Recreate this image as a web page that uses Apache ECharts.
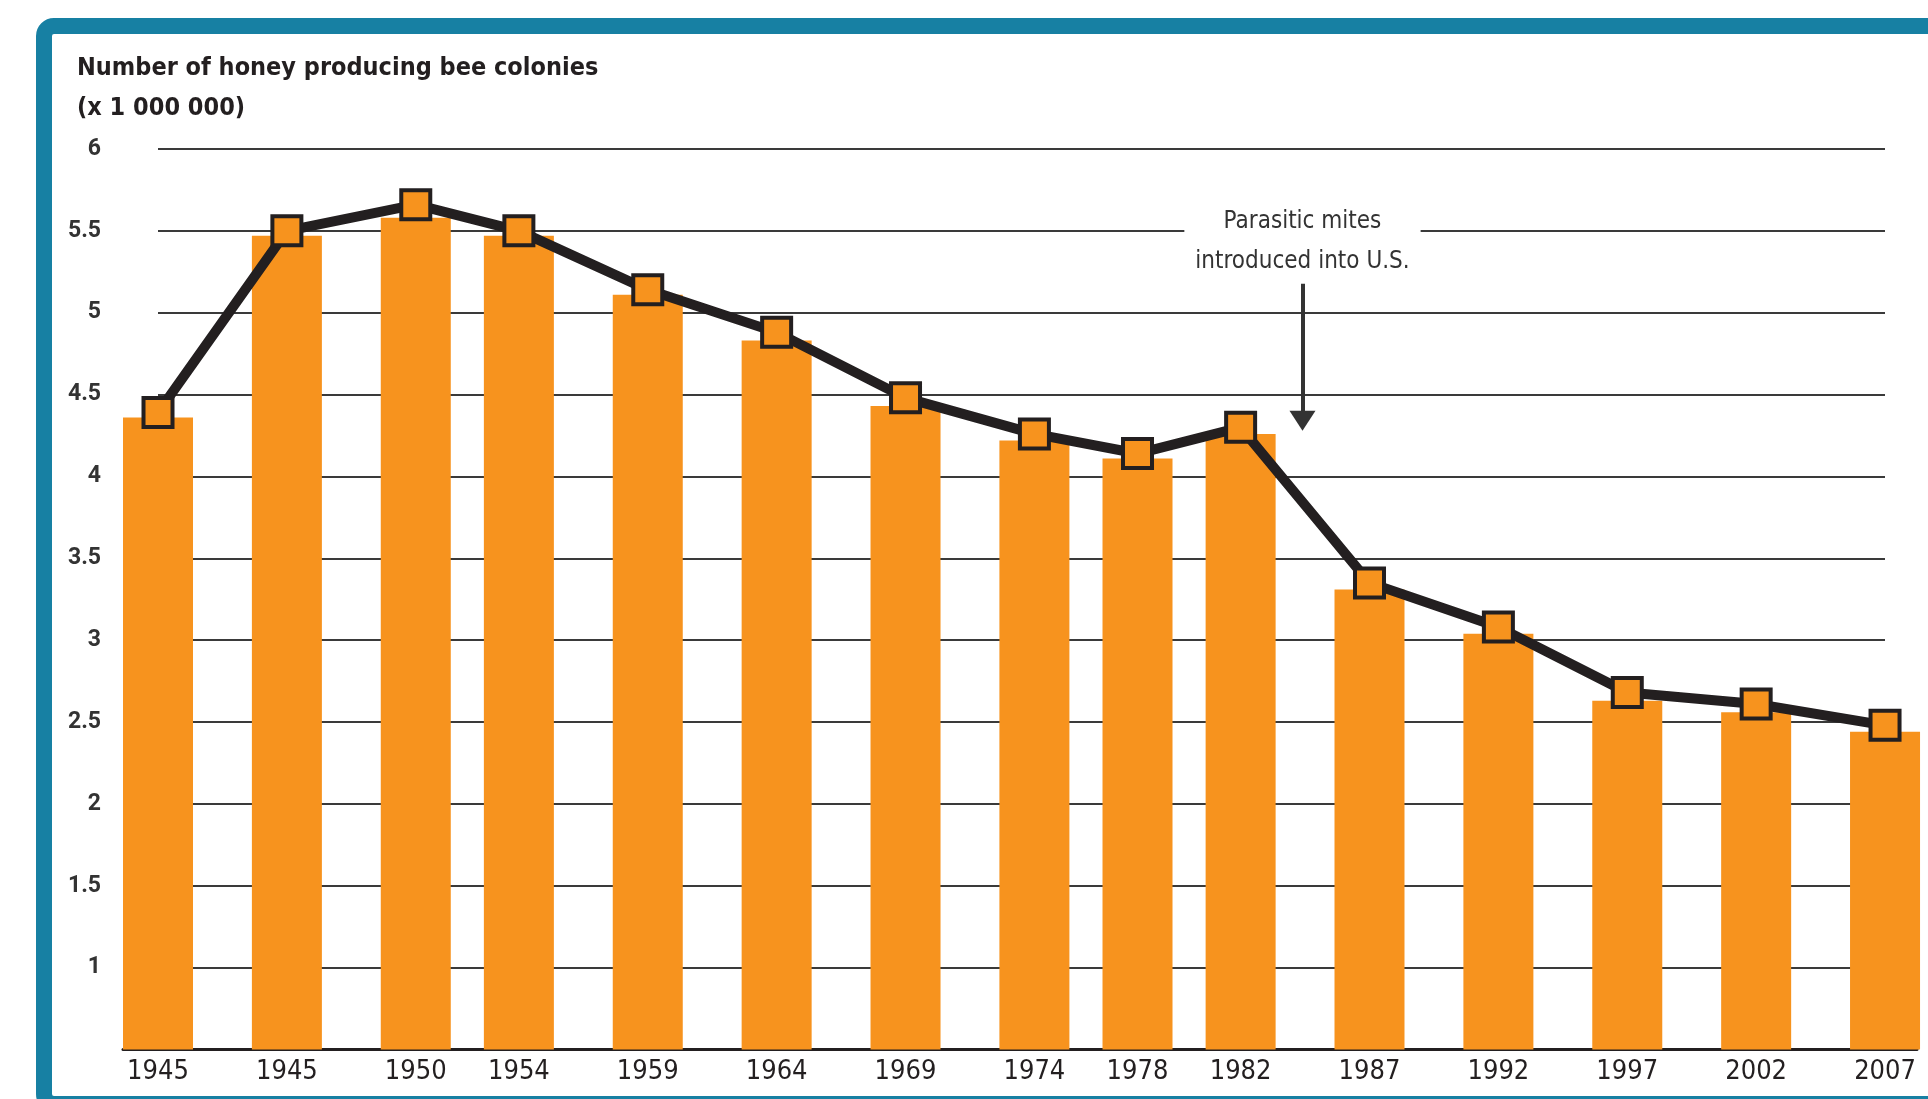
<!DOCTYPE html>
<html>
<head>
<meta charset="utf-8">
<script src="https://cdn.jsdelivr.net/npm/echarts@6/dist/echarts.min.js"></script>
<style>
html,body{margin:0;padding:0;background:#fff;}
#c{width:1928px;height:1099px;}
</style>
</head>
<body>
<div id="c"></div>
<script>
// Positions on the year scale (first bar sits five years before the second one)
const yearPositions = [1940, 1945, 1950, 1954, 1959, 1964, 1969, 1974, 1978, 1982, 1987, 1992, 1997, 2002, 2007];
// Tick labels as printed under the bars
const yearLabels = ['1945', '1945', '1950', '1954', '1959', '1964', '1969', '1974', '1978', '1982', '1987', '1992', '1997', '2002', '2007'];
// Bar heights (millions of colonies)
const barValues = [4.36, 5.47, 5.58, 5.47, 5.11, 4.83, 4.43, 4.22, 4.11, 4.26, 3.31, 3.04, 2.63, 2.56, 2.44];
// Line marker values (millions of colonies)
const lineValues = [4.39, 5.50, 5.66, 5.50, 5.14, 4.88, 4.48, 4.26, 4.14, 4.30, 3.35, 3.08, 2.68, 2.61, 2.48];
// Y tick labels
const yTicks = [1, 1.5, 2, 2.5, 3, 3.5, 4, 4.5, 5, 5.5, 6];
const annotationText = 'Parasitic mites\nintroduced into U.S.';
const annotationYear = 1984.4;

const condensed = "'Liberation Sans Narrow', 'DejaVu Sans Condensed', 'Roboto Condensed', 'Arial Narrow', sans-serif";
const ORANGE = '#f7931e';
const DARK = '#231f20';

const chart = echarts.init(document.getElementById('c'));

const barData = yearPositions.map((y, i) => [y, barValues[i]]);
const lineData = yearPositions.map((y, i) => [y, lineValues[i]]);

chart.setOption({
  animation: false,
  backgroundColor: '#fff',
  title: {
    text: 'Number of honey producing bee colonies\n(x 1 000 000)',
    left: 72,
    top: 43,
    textStyle: {
      fontFamily: condensed,
      fontWeight: 'bold',
      fontSize: 25,
      lineHeight: 40,
      color: DARK
    }
  },
  graphic: [{
    type: 'rect',
    silent: true,
    z: 100,
    shape: { x: 44, y: 26, width: 2000, height: 1078, r: 10 },
    style: { fill: 'none', stroke: '#1780a3', lineWidth: 16 }
  }],
  grid: [
    { left: 123, right: 11, top: 149, bottom: 49.5 },
    { left: 158, right: 43, top: 149, bottom: 49.5 }
  ],
  xAxis: [{
    type: 'value',
    gridIndex: 0,
    min: 1938.642,
    max: 2008.24,
    splitLine: { show: false },
    axisLine: { show: true, onZero: false, lineStyle: { color: DARK, width: 3 } },
    axisTick: { show: false },
    axisLabel: {
      customValues: yearPositions,
      formatter: v => {
        const i = yearPositions.indexOf(v);
        return i >= 0 ? yearLabels[i] : '';
      },
      margin: 9,
      fontFamily: condensed,
      fontSize: 27,
      color: DARK
    }
  }, {
    type: 'value',
    gridIndex: 1,
    min: 1940,
    max: 2007,
    show: false
  }],
  yAxis: [{
    type: 'value',
    gridIndex: 0,
    min: 0.5,
    max: 6,
    interval: 0.5,
    axisLine: { show: false },
    axisTick: { show: false },
    splitLine: { show: false },
    axisLabel: {
      margin: 22,
      formatter: v => (yTicks.indexOf(v) >= 0 ? String(v) : ''),
      fontFamily: "Roboto, 'Open Sans', sans-serif",
      fontWeight: 'bold',
      fontSize: 23,
      color: '#333'
    }
  }, {
    type: 'value',
    gridIndex: 1,
    min: 0.5,
    max: 6,
    interval: 0.5,
    axisLine: { show: false },
    axisTick: { show: false },
    axisLabel: { show: false },
    splitLine: { show: true, lineStyle: { color: '#3a3a3a', width: 2 } }
  }],
  series: [{
    type: 'bar',
    xAxisIndex: 0,
    yAxisIndex: 0,
    data: barData,
    barWidth: 70,
    clip: true,
    itemStyle: { color: ORANGE },
    z: 2
  }, {
    type: 'line',
    xAxisIndex: 0,
    yAxisIndex: 0,
    data: lineData,
    symbol: 'rect',
    symbolSize: 29,
    lineStyle: { color: DARK, width: 10 },
    itemStyle: { color: ORANGE, borderColor: DARK, borderWidth: 4 },
    z: 5,
    markLine: {
      silent: true,
      symbol: ['none', 'triangle'],
      symbolSize: [26, 20],
      lineStyle: { color: '#333', width: 4, type: 'solid' },
      label: { show: false },
      data: [[{ coord: [annotationYear, 5.2] }, { coord: [annotationYear, 4.34] }]]
    },
    markPoint: {
      silent: true,
      symbol: 'rect',
      symbolSize: 0,
      data: [{ coord: [annotationYear, 5.5] }],
      label: {
        show: true,
        formatter: annotationText,
        position: 'inside',
        offset: [0, 11],
        fontFamily: condensed,
        fontSize: 24,
        lineHeight: 40,
        color: '#333',
        backgroundColor: '#fff',
        padding: [2, 11, 2, 11],
        align: 'center'
      }
    }
  }]
});
</script>
</body>
</html>
